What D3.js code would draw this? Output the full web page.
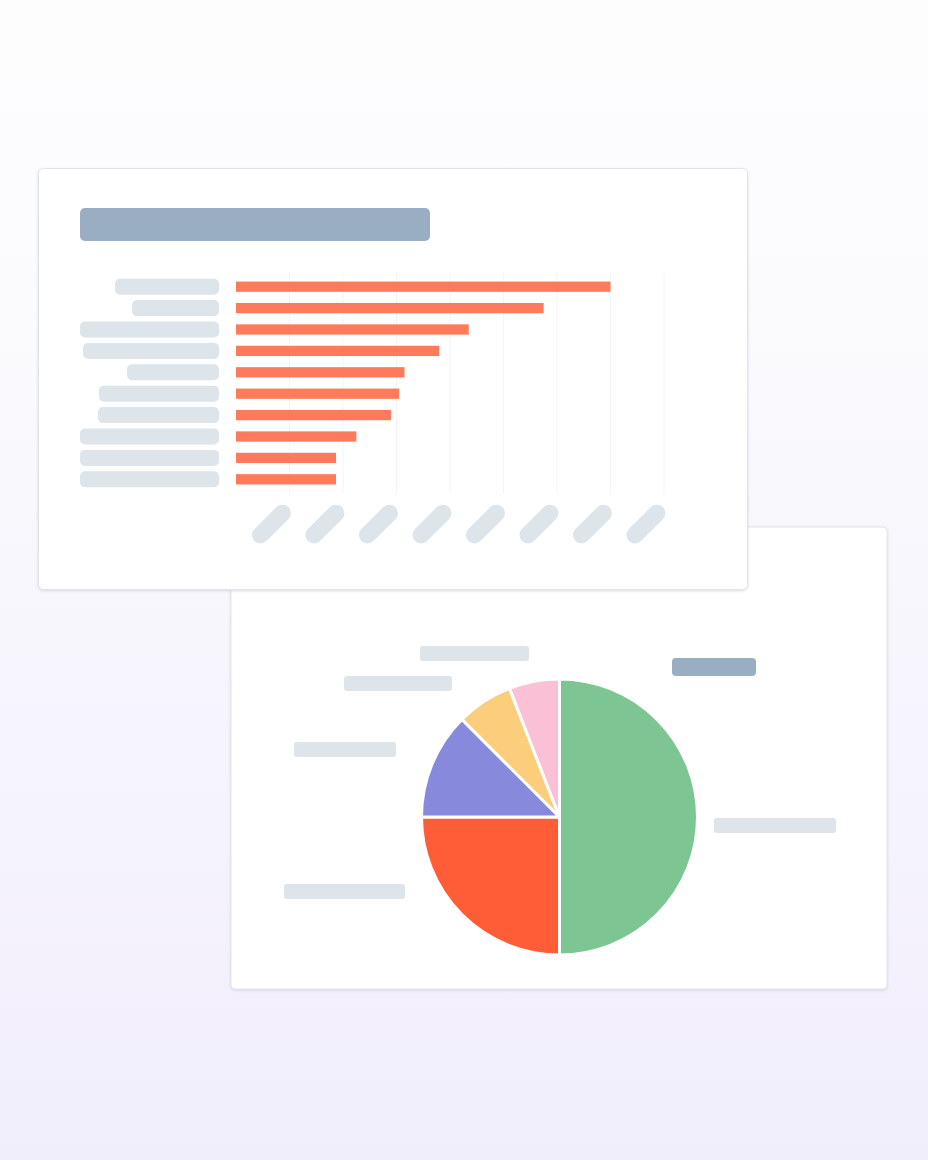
<!DOCTYPE html>
<html>
<head>
<meta charset="utf-8">
<script src="https://cdn.jsdelivr.net/npm/d3@7"></script>
<style>
  html, body { margin: 0; padding: 0; }
  body { width: 928px; height: 1160px; overflow: hidden; }
</style>
</head>
<body>
<svg id="chart" width="928" height="1160"></svg>
<script>
// bar chart data (label pill widths stand in for the blurred category names)
const barCategories = ["c1", "c2", "c3", "c4", "c5", "c6", "c7", "c8", "c9", "c10"]
const barValues = [70, 57.5, 43.5, 38, 31.5, 30.5, 29, 22.5, 18.7, 18.7]
const barLabelWidths = [104, 87, 139, 136, 92, 120, 121, 139, 139, 139]
const xTicks = [10, 20, 30, 40, 50, 60, 70, 80]

// pie data
const pieCategories = ["a", "b", "c", "d", "e"]
const pieValues = [50, 25, 12.5, 6.6, 5.9]
const pieColors = ["#7dc593", "#fe5d37", "#8789dd", "#fccd7a", "#fac0d6"]

const svg = d3.select("#chart")
const defs = svg.append("defs")

const bg = defs.append("linearGradient")
  .attr("id", "bg").attr("x1", 0).attr("y1", 0).attr("x2", 0).attr("y2", 1)
bg.append("stop").attr("offset", "0%").attr("stop-color", "#fdfdfe")
bg.append("stop").attr("offset", "25%").attr("stop-color", "#fbfbfd")
bg.append("stop").attr("offset", "100%").attr("stop-color", "#f1eefc")

const shadow = defs.append("filter").attr("id", "shadow")
  .attr("x", "-5%").attr("y", "-5%").attr("width", "110%").attr("height", "110%")
shadow.append("feDropShadow")
  .attr("dx", 0).attr("dy", 1).attr("stdDeviation", 1.5)
  .attr("flood-color", "#9aa0b8").attr("flood-opacity", 0.35)

svg.append("rect").attr("width", 928).attr("height", 1160).attr("fill", "url(#bg)")

const pillLight = "#dde4ea"
const pillDark = "#99adc3"

// ---- pie card (behind) ----
svg.append("rect")
  .attr("x", 231).attr("y", 527).attr("width", 656).attr("height", 462)
  .attr("rx", 4)
  .attr("fill", "#fff").attr("stroke", "#e4e5ee").attr("stroke-width", 1)
  .attr("filter", "url(#shadow)")

const pie = d3.pie().sort(null).value(d => d)
const arc = d3.arc().innerRadius(0).outerRadius(138)

const pieG = svg.append("g").attr("transform", "translate(559.5,817)")
pieG.selectAll("path")
  .data(pie(pieValues))
  .join("path")
  .attr("d", arc)
  .attr("fill", (d, i) => pieColors[i])
  .attr("stroke", "#fff")
  .attr("stroke-width", 3)
  .attr("stroke-linejoin", "round")

// pie label placeholders
const pieLabels = [
  [420, 646, 109],
  [344, 676, 108],
  [294, 742, 102],
  [284, 884, 121],
  [714, 818, 122]
]
svg.append("g").selectAll("rect")
  .data(pieLabels)
  .join("rect")
  .attr("x", d => d[0]).attr("y", d => d[1])
  .attr("width", d => d[2]).attr("height", 15)
  .attr("rx", 3)
  .attr("fill", pillLight)

svg.append("rect")
  .attr("x", 672).attr("y", 658).attr("width", 84).attr("height", 18)
  .attr("rx", 4).attr("fill", pillDark)

// ---- bar card (front) ----
svg.append("rect")
  .attr("x", 38.5).attr("y", 168.5).attr("width", 709).attr("height", 421)
  .attr("rx", 5)
  .attr("fill", "#fff").attr("stroke", "#e2e4ec").attr("stroke-width", 1)
  .attr("filter", "url(#shadow)")

// title placeholder
svg.append("rect")
  .attr("x", 80).attr("y", 208).attr("width", 350).attr("height", 33)
  .attr("rx", 5).attr("fill", pillDark)

const x = d3.scaleLinear().domain([0, 80]).range([236, 664])
const y = d3.scaleBand().domain(barCategories).range([276, 490]).paddingInner(0.52).paddingOuter(0.26)

// vertical grid lines
svg.append("g").selectAll("line")
  .data(xTicks)
  .join("line")
  .attr("x1", d => x(d)).attr("x2", d => x(d))
  .attr("y1", 273).attr("y2", 494)
  .attr("stroke", "#f3f4f7").attr("stroke-width", 1)

// bars
svg.append("g").selectAll("rect")
  .data(barValues)
  .join("rect")
  .attr("x", x(0))
  .attr("y", (d, i) => y(barCategories[i]))
  .attr("width", d => x(d) - x(0))
  .attr("height", y.bandwidth())
  .attr("fill", "#fd7a5a")

// category label placeholders
svg.append("g").selectAll("rect")
  .data(barCategories)
  .join("rect")
  .attr("x", (d, i) => 219 - barLabelWidths[i])
  .attr("y", d => y(d) + y.bandwidth() / 2 - 8)
  .attr("width", (d, i) => barLabelWidths[i])
  .attr("height", 16)
  .attr("rx", 5)
  .attr("fill", pillLight)

// rotated tick label placeholders
svg.append("g").selectAll("g")
  .data(xTicks)
  .join("g")
  .attr("transform", d => `translate(${x(d) + 1},505) rotate(-45)`)
  .append("rect")
  .attr("x", -51).attr("y", -8.5)
  .attr("width", 48).attr("height", 17)
  .attr("rx", 8.5)
  .attr("fill", pillLight)
</script>
</body>
</html>
